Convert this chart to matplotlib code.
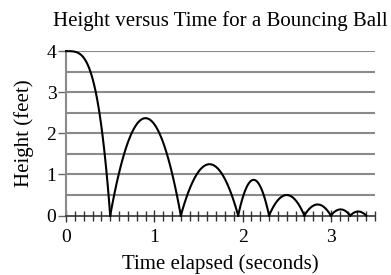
import numpy as np
import matplotlib.pyplot as plt
from matplotlib.ticker import MultipleLocator

# ground contact times and the peak height of each arc
# (the first piece starts at its peak, at t = 0)
bounce_times = [0.0, 0.5, 1.3, 1.95, 2.3, 2.7, 3.0, 3.22, 3.4]
peak_heights = [4.0, 2.37, 1.25, 0.87, 0.5, 0.27, 0.15, 0.1]

plt.rcParams['font.family'] = ['Liberation Serif', 'DejaVu Serif']

fig = plt.figure(figsize=(3.91, 2.75), dpi=100)
ax = fig.add_axes([0.169, 0.216, 0.79, 0.598])

# gridlines every half foot
for yv in np.arange(0.5, 4.01, 0.5):
    ax.axhline(yv, color='#8a8a8a', lw=1.5, zorder=1)

# first drop: flatter top, steep fall (as drawn in the original)
t = np.linspace(0, bounce_times[1], 80)
ax.plot(t, peak_heights[0] * (1 - (t / bounce_times[1]) ** 3.5), color='black', lw=1.5,
        zorder=3, clip_on=False)
for i in range(1, len(peak_heights)):
    a, b = bounce_times[i], bounce_times[i + 1]
    t = np.linspace(a, b, 60)
    mid = (a + b) / 2
    half = (b - a) / 2
    ax.plot(t, peak_heights[i] * (1 - ((t - mid) / half) ** 2), color='black', lw=1.5,
            zorder=3, clip_on=False)

ax.set_xlim(0, 3.5)
ax.set_ylim(0, 4)

for s in ['top', 'right']:
    ax.spines[s].set_visible(False)
ax.spines['left'].set_color('#8a8a8a')
ax.spines['left'].set_linewidth(1.5)
ax.spines['bottom'].set_color('#333333')
ax.spines['bottom'].set_linewidth(1.2)

ax.xaxis.set_major_locator(MultipleLocator(1))
ax.xaxis.set_minor_locator(MultipleLocator(0.1))
ax.yaxis.set_major_locator(MultipleLocator(1))
ax.tick_params(axis='x', which='major', direction='inout', length=9, width=1, colors='#333333',
               labelsize=14, labelcolor='black', pad=5)
ax.tick_params(axis='x', which='minor', direction='inout', length=6.5, width=1, colors='#333333')
ax.tick_params(axis='y', which='major', direction='out', length=6, width=1, colors='#666666',
               labelsize=14, labelcolor='black', pad=1)

ax.set_xlabel('Time elapsed (seconds)', fontsize=15, labelpad=6)
ax.set_ylabel('Height (feet)', fontsize=15, labelpad=9)
ax.set_title('Height versus Time for a Bouncing Ball', fontsize=15, pad=18)

fig.savefig('out.png', dpi=100)
